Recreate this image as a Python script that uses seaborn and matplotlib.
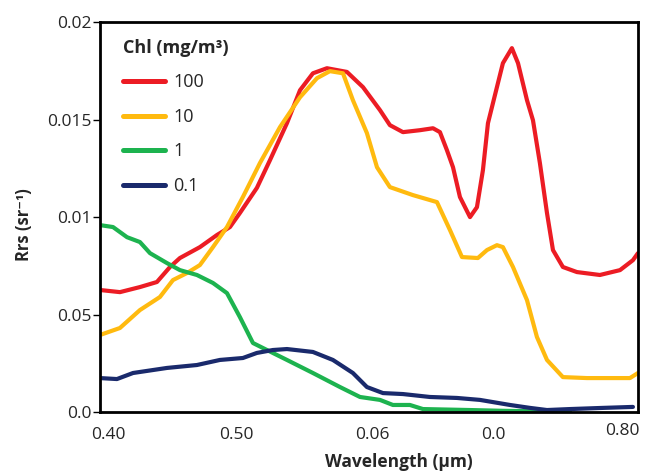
import pandas as pd
import seaborn as sns
import matplotlib
matplotlib.use("Agg")
import matplotlib.pyplot as plt
import matplotlib.transforms as mtransforms

# Rrs spectra, per chlorophyll concentration (mg/m3)
wl_100 = [0.400, 0.4147, 0.4294, 0.4419, 0.4515, 0.4588, 0.4735, 0.4860, 0.4956, 0.5029,
          0.5154, 0.5250, 0.5375, 0.5471, 0.5566, 0.5669, 0.5816, 0.5934, 0.6059, 0.6132,
          0.6228, 0.6353, 0.6449, 0.6500, 0.6551, 0.6596, 0.6647, 0.6721, 0.6772, 0.6816,
          0.6853, 0.6919, 0.6963, 0.7029, 0.7074, 0.7140, 0.7184, 0.7235, 0.7287, 0.7331,
          0.7404, 0.7507, 0.7676, 0.7824, 0.7919, 0.7956]
rrs_100 = [0.00626, 0.00615, 0.00641, 0.00667, 0.00744, 0.00790, 0.00846, 0.00908, 0.00949, 0.01021,
           0.01150, 0.01292, 0.01482, 0.01651, 0.01738, 0.01764, 0.01745, 0.01667, 0.01549, 0.01472,
           0.01436, 0.01446, 0.01456, 0.01436, 0.01344, 0.01256, 0.01103, 0.01000, 0.01051, 0.01241,
           0.01482, 0.01667, 0.01790, 0.01867, 0.01790, 0.01600, 0.01497, 0.01277, 0.01021, 0.00831,
           0.00744, 0.00718, 0.00703, 0.00728, 0.00779, 0.00815]

wl_10 = [0.400, 0.4147, 0.4294, 0.4441, 0.4537, 0.4640, 0.4735, 0.4831, 0.4934, 0.5051,
         0.5176, 0.5324, 0.5471, 0.5596, 0.5691, 0.5787, 0.5860, 0.5963, 0.6037, 0.6132,
         0.6301, 0.6478, 0.6574, 0.6662, 0.6779, 0.6846, 0.6919, 0.6963, 0.7037, 0.7140,
         0.7213, 0.7287, 0.7404, 0.7581, 0.7897, 0.7956]
rrs_10 = [0.00395, 0.00431, 0.00523, 0.00590, 0.00677, 0.00713, 0.00754, 0.00846, 0.00949, 0.01103,
          0.01277, 0.01462, 0.01615, 0.01713, 0.01749, 0.01738, 0.01600, 0.01431, 0.01256, 0.01154,
          0.01113, 0.01077, 0.00933, 0.00795, 0.00790, 0.00831, 0.00856, 0.00846, 0.00744, 0.00574,
          0.00385, 0.00267, 0.00179, 0.00174, 0.00174, 0.00200]

wl_1 = [0.400, 0.4096, 0.4199, 0.4294, 0.4368, 0.4493, 0.4588, 0.4713, 0.4831, 0.4934,
        0.5029, 0.5125, 0.5228, 0.5375, 0.5566, 0.5765, 0.5912, 0.6059, 0.6154, 0.6279,
        0.6375, 0.6721, 0.6963, 0.7162, 0.7456]
rrs_1 = [0.00959, 0.00949, 0.00897, 0.00872, 0.00815, 0.00764, 0.00728, 0.00703, 0.00662, 0.00610,
         0.00487, 0.00354, 0.00318, 0.00267, 0.00200, 0.00128, 0.00077, 0.00062, 0.00036, 0.00036,
         0.00015, 0.00010, 0.00006, 0.00004, 0.00004]

wl_01 = [0.400, 0.4125, 0.4243, 0.4493, 0.4713, 0.4882, 0.5051, 0.5154, 0.5272, 0.5375,
         0.5566, 0.5713, 0.5860, 0.5963, 0.6081, 0.6228, 0.6426, 0.6625, 0.6794, 0.7015,
         0.7162, 0.7287, 0.7456, 0.7699, 0.7919]
rrs_01 = [0.00174, 0.00169, 0.00200, 0.00226, 0.00241, 0.00267, 0.00277, 0.00303, 0.00318, 0.00323,
          0.00308, 0.00267, 0.00200, 0.00128, 0.00097, 0.00092, 0.00077, 0.00072, 0.00062, 0.00036,
          0.00021, 0.00010, 0.00015, 0.00021, 0.00026]

series = [("100", wl_100, rrs_100, "#ec1c24"),
          ("10", wl_10, rrs_10, "#ffba0f"),
          ("1", wl_1, rrs_1, "#1db34f"),
          ("0.1", wl_01, rrs_01, "#1a2a6c")]

# tick labels as printed in the original figure
x_ticks = [0.40, 0.50, 0.60, 0.70]
x_labels = ["0.40", "0.50", "0.06", "0.0"]
x_last_label = "0.80"
y_ticks = [0.0, 0.005, 0.01, 0.015, 0.02]
y_labels = ["0.0", "0.05", "0.01", "0.015", "0.02"]

sns.set_style("white")
plt.rcParams["font.family"] = ["Open Sans", "DejaVu Sans"]

fig = plt.figure(figsize=(6.49, 4.73), dpi=100)
ax = fig.add_axes([0.154, 0.129, 0.829, 0.824])

for name, wl, rrs, color in series:
    df = pd.DataFrame({"wl": wl, "rrs": rrs})
    sns.lineplot(data=df, x="wl", y="rrs", ax=ax, color=color, linewidth=3.0,
                 label=name, estimator=None, solid_joinstyle="round",
                 solid_capstyle="round")

ax.set_xlim(0.40, 0.7956)
ax.set_ylim(0.0, 0.02)
ax.set_xticks(x_ticks)
ax.set_xticklabels(x_labels, fontsize=12.5)
ax.set_yticks(y_ticks)
ax.set_yticklabels(y_labels, fontsize=12.5)
ax.tick_params(axis="x", direction="in", length=8, width=1, color="black", pad=11)
ax.tick_params(axis="y", direction="out", length=5, width=1, color="black", left=True, pad=1)

# the scanned labels sit a little off their ticks
shifts = {"0.40": 8, "0.0": -15}
for lab in ax.get_xticklabels():
    dx = shifts.get(lab.get_text(), 0)
    if dx:
        lab.set_transform(lab.get_transform() +
                          mtransforms.ScaledTranslation(dx / 100, 0, fig.dpi_scale_trans))
ax.text(1.0 + 2 / 538, -11 / 390, x_last_label, transform=ax.transAxes,
        ha="right", va="top", fontsize=12.5)

for sp in ax.spines.values():
    sp.set_color("black")
    sp.set_linewidth(2)

ax.set_xlabel("Wavelength (µm)", fontsize=12.5, fontweight="bold")
ax.xaxis.set_label_coords(0.556, -0.105)
ax.set_ylabel("Rrs (sr⁻¹)", fontsize=12, fontweight="bold")
ax.yaxis.set_label_coords(-0.124, 0.48)

leg = ax.legend(title="Chl (mg/m³)", loc="upper left", bbox_to_anchor=(0.043, 0.958),
                frameon=False, fontsize=13, handlelength=2.33, labelspacing=0.92,
                handletextpad=0.45, borderpad=0, borderaxespad=0, alignment="left")
leg.get_title().set_fontweight("bold")
leg.get_title().set_fontsize(13)
for ln in leg.get_lines():
    ln.set_linewidth(3.6)

fig.savefig("out.png", dpi=100)
